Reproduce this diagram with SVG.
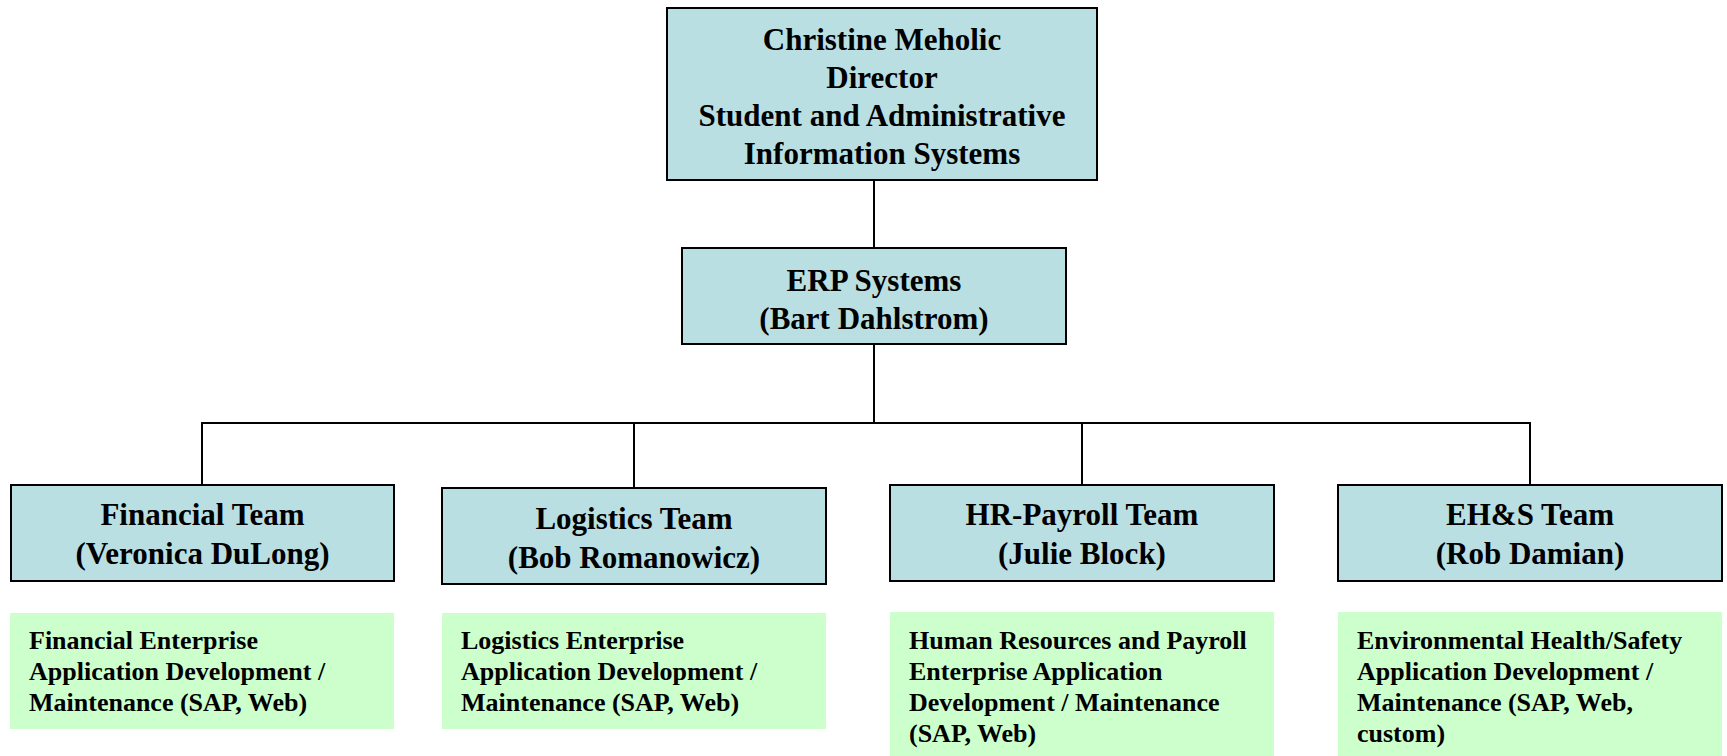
<svg xmlns="http://www.w3.org/2000/svg" width="1727" height="756" viewBox="0 0 1727 756">
<style>
.box{fill:#B9DFE3;stroke:#000;stroke-width:2}
.note{fill:#CCFFCC;stroke:none}
.t{font-family:"Liberation Serif","Times New Roman",serif;font-weight:bold;fill:#000}
.big{font-size:31px;text-anchor:middle}
.small{font-size:26px}
.conn{stroke:#000;stroke-width:2;fill:none}
</style>
<rect width="1727" height="756" fill="#fff"/>
<g id="connectors">
<line class="conn" x1="874" y1="180" x2="874" y2="248"/>
<line class="conn" x1="874" y1="344" x2="874" y2="423"/>
<line class="conn" x1="201" y1="423" x2="1531" y2="423"/>
<line class="conn" x1="202" y1="422" x2="202" y2="485"/>
<line class="conn" x1="634" y1="422" x2="634" y2="488"/>
<line class="conn" x1="1082" y1="422" x2="1082" y2="485"/>
<line class="conn" x1="1530" y1="422" x2="1530" y2="485"/>
</g>
<g id="director">
<rect class="box" x="667" y="8" width="430" height="172"/>
<text class="t big" x="882" y="50">Christine Meholic</text>
<text class="t big" x="882" y="88">Director</text>
<text class="t big" x="882" y="126">Student and Administrative</text>
<text class="t big" x="882" y="164">Information Systems</text>
</g>
<g id="erp">
<rect class="box" x="682" y="248" width="384" height="96"/>
<text class="t big" x="874" y="291">ERP Systems</text>
<text class="t big" x="874" y="329">(Bart Dahlstrom)</text>
</g>
<g id="financial">
<rect class="box" x="11" y="485" width="383" height="96"/>
<text class="t big" x="202.5" y="525">Financial Team</text>
<text class="t big" x="202.5" y="564">(Veronica DuLong)</text>
</g>
<g id="logistics">
<rect class="box" x="442" y="488" width="384" height="96"/>
<text class="t big" x="634" y="529">Logistics Team</text>
<text class="t big" x="634" y="568">(Bob Romanowicz)</text>
</g>
<g id="hr">
<rect class="box" x="890" y="485" width="384" height="96"/>
<text class="t big" x="1082" y="525">HR-Payroll Team</text>
<text class="t big" x="1082" y="564">(Julie Block)</text>
</g>
<g id="ehs">
<rect class="box" x="1338" y="485" width="384" height="96"/>
<text class="t big" x="1530" y="525">EH&amp;S Team</text>
<text class="t big" x="1530" y="564">(Rob Damian)</text>
</g>
<g id="financial-desc">
<rect class="note" x="10" y="613" width="384" height="116"/>
<text class="t small" x="29" y="649">Financial Enterprise</text>
<text class="t small" x="29" y="680">Application Development /</text>
<text class="t small" x="29" y="711">Maintenance (SAP, Web)</text>
</g>
<g id="logistics-desc">
<rect class="note" x="442" y="613" width="384" height="116"/>
<text class="t small" x="461" y="649">Logistics Enterprise</text>
<text class="t small" x="461" y="680">Application Development /</text>
<text class="t small" x="461" y="711">Maintenance (SAP, Web)</text>
</g>
<g id="hr-desc">
<rect class="note" x="890" y="612" width="384" height="144"/>
<text class="t small" x="909" y="649">Human Resources and Payroll</text>
<text class="t small" x="909" y="680">Enterprise Application</text>
<text class="t small" x="909" y="711">Development / Maintenance</text>
<text class="t small" x="909" y="742">(SAP, Web)</text>
</g>
<g id="ehs-desc">
<rect class="note" x="1338" y="612" width="384" height="144"/>
<text class="t small" x="1357" y="649">Environmental Health/Safety</text>
<text class="t small" x="1357" y="680">Application Development /</text>
<text class="t small" x="1357" y="711">Maintenance (SAP, Web,</text>
<text class="t small" x="1357" y="742">custom)</text>
</g>
</svg>
